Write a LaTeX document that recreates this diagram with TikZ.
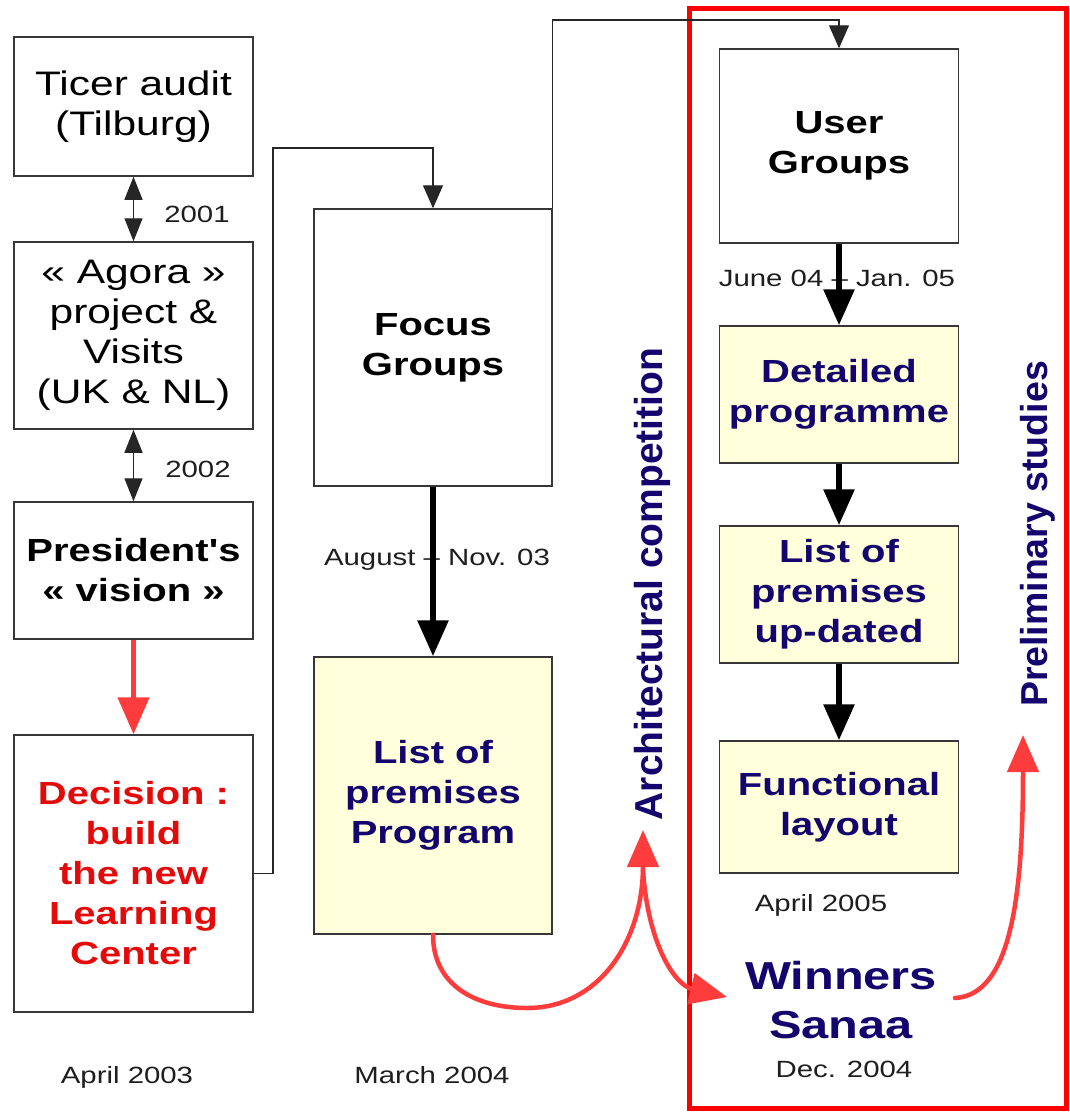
\documentclass[tikz,border=0pt]{standalone}
\usepackage{fontspec}
\setmainfont{Liberation Sans}[FakeStretch=1.25, Ligatures=TeXOff]
\newfontfamily\rotfont{Liberation Sans}
\usetikzlibrary{arrows.meta}
\definecolor{boxline}{RGB}{55,55,55}
\definecolor{boxfill}{RGB}{255,255,220}
\definecolor{navyt}{RGB}{20,5,110}
\definecolor{redtext}{RGB}{228,10,10}
\definecolor{redarrow}{RGB}{255,60,60}
\definecolor{frame}{RGB}{255,0,0}
\definecolor{datecol}{RGB}{30,30,30}
\begin{document}
\begin{tikzpicture}[x=1pt,y=-1pt,
  box/.style={draw=boxline, line width=1.5pt, inner sep=0pt, align=center},
  reg/.style={font=\fontsize{34}{40}\selectfont},
  bld/.style={font=\fontsize{32}{40}\selectfont\bfseries},
  yel/.style={fill=boxfill, text=navyt},
  datelab/.style={font=\fontsize{23.5}{28}\selectfont, text=datecol, anchor=base, inner sep=0pt},
  thinarr/.style={draw=black!85, line width=1.3pt, -{Triangle[width=20pt,length=23pt]}},
  dblarr/.style={draw=black!85, line width=1.3pt, {Triangle[width=18pt,length=23pt]}-{Triangle[width=18pt,length=23pt]}},
  thickarr/.style={draw=black, line width=6pt, -{Triangle[width=30pt,length=36pt]}},
  redarr/.style={draw=redarrow, line width=4.5pt, line cap=round, -{Triangle[width=31pt,length=37pt]}},
  rottext/.style={rotate=90, anchor=base, text=navyt, inner sep=0pt}
]
\useasboundingbox (0,0) rectangle (1070,1112);
\fill[white] (0,0) rectangle (1070,1112);

% red frame
\draw[frame, line width=5pt] (689,8) rectangle (1066,1108);

% left column
\node[box, reg, minimum width=239pt, minimum height=139pt] (ticer) at (133.5,106.5) {Ticer audit\\(Tilburg)};
\node[box, reg, minimum width=239pt, minimum height=187pt] (agora) at (133.5,335.5) {« Agora »\\project \&\\Visits\\(UK \& NL)};
\node[box, bld, minimum width=239pt, minimum height=137pt] (pres) at (133.5,570.5) {President's\\« vision »};
\node[box, bld, text=redtext, minimum width=239pt, minimum height=277pt] (dec) at (133.5,873.5) {Decision :\\build\\the new\\Learning\\Center};

% middle column
\node[box, bld, minimum width=238pt, minimum height=277pt] (focus) at (433,347.5) {Focus\\Groups};
\node[box, bld, yel, minimum width=238pt, minimum height=277pt] (lpp) at (433,795.5) {List of\\premises\\Program};

% right column
\node[box, bld, minimum width=239pt, minimum height=194pt] (user) at (839,146) {User\\Groups};
\node[box, bld, yel, minimum width=239pt, minimum height=137pt] (det) at (839,394.5) {Detailed\\programme};
\node[box, bld, yel, minimum width=239pt, minimum height=137pt] (lpu) at (839,594.5) {List of\\premises\\up-dated};
\node[box, bld, yel, minimum width=239pt, minimum height=132pt] (func) at (839,807) {Functional\\layout};

% winners
\node[font=\fontsize{39}{49}\selectfont\bfseries, text=navyt, align=center, inner sep=0pt] (win) at (841,1000) {Winners\\Sanaa};

% rotated labels
\node[rottext, font=\rotfont\bfseries\fontsize{39}{39}\selectfont] (arch) at (662,584) {Architectural competition};
\node[rottext, font=\rotfont\bfseries\fontsize{37.5}{37.5}\selectfont] (prelim) at (1047,534) {Preliminary studies};

% date labels
\node[datelab] (d2001) at (197,222) {2001};
\node[datelab] (d2002) at (198,477) {2002};
\node[datelab] (daug) at (437,565) {August – Nov. 03};
\node[datelab] (djune) at (837,286) {June 04 – Jan. 05};
\node[datelab] (dapr3) at (127,1083) {April 2003};
\node[datelab] (dmar4) at (432,1083) {March 2004};
\node[datelab] (dapr5) at (821,911) {April 2005};
\node[datelab] (ddec4) at (844,1077) {Dec. 2004};

% connectors
\draw[dblarr] (ticer.south) -- (agora.north);
\draw[dblarr] (agora.south) -- (pres.north);
\draw[redarr, line cap=butt] (pres.south) -- (dec.north);

\coordinate (c1) at (273,148);
\draw[thinarr] (dec.east) -| (c1) -| (focus.north);
\coordinate (c2) at (839,20);
\draw[thinarr] (focus.north east) |- (c2) -- (user.north);

\draw[thickarr] (focus.south) -- (lpp.north);
\draw[thickarr] (user.south) -- (det.north);
\draw[thickarr] (det.south) -- (lpu.north);
\draw[thickarr] (lpu.south) -- (func.north);

% red curved arrows
\coordinate (r0) at (527,1008);
\coordinate (r1) at (643,830);
\coordinate (r2) at (643,870);
\coordinate (r3) at (727,997);
\coordinate (r4) at (955,998);
\coordinate (r5) at (1023,735);
\draw[redarr] (lpp.south) .. controls (433,985) and (475,1008) .. (r0) .. controls (600,1008) and (643,940) .. (r1);
\draw[redarr] (r2) .. controls (648,945) and (675,985) .. (r3);
\draw[redarr] (r4) .. controls (1010,995) and (1023,900) .. (r5);
\end{tikzpicture}
\end{document}
